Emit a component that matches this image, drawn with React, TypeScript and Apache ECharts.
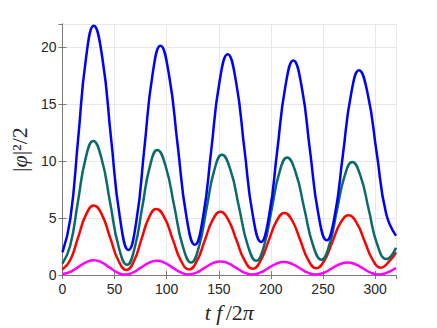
import React, { useEffect, useRef } from "react";
import * as echarts from "echarts";

// x = t f / 2π, y = |φ|²/2
const blueData: [number, number][] = [
  [0, 2.0], [7.5, 4.9], [15, 11.9], [22.5, 18.95], [30, 21.85],
  [38.3, 19.0], [46.6, 12.0], [55, 5.1], [63.3, 2.2],
  [71, 4.8], [78.6, 11.15], [86.3, 17.5], [94, 20.1],
  [102.2, 17.55], [110.5, 11.4], [118.8, 5.2], [127, 2.65],
  [134.9, 5.1], [142.8, 11.0], [150.6, 16.9], [158.5, 19.35],
  [166.5, 16.95], [174.5, 11.1], [182.5, 5.3], [190.5, 2.9],
  [198.2, 5.2], [206, 10.85], [213.8, 16.5], [221.5, 18.8],
  [229.5, 16.5], [237.5, 10.9], [245.5, 5.35], [253.5, 3.05],
  [261.2, 5.2], [269, 10.5], [276.8, 15.8], [284.5, 17.95],
  [293, 15.8], [301.5, 10.7], [310.5, 5.4], [320, 3.45],
];

const tealData: [number, number][] = [
  [0, 1.0], [7.4, 2.57], [14.75, 6.38], [22.1, 10.18], [29.5, 11.75],
  [37.6, 10.17], [45.75, 6.33], [53.9, 2.48], [62, 0.9],
  [69.25, 2.37], [76.5, 5.93], [83.75, 9.48], [91, 10.95],
  [99.1, 9.51], [107.25, 6.03], [115.4, 2.54], [123.5, 1.1],
  [130.9, 2.48], [138.25, 5.83], [145.6, 9.17], [153, 10.55],
  [161.25, 9.19], [169.5, 5.9], [177.75, 2.61], [186, 1.25],
  [193.4, 2.57], [200.75, 5.78], [208.1, 8.98], [215.5, 10.3],
  [223.75, 8.99], [232, 5.83], [240.25, 2.66], [248.5, 1.35],
  [255.9, 2.6], [263.25, 5.63], [270.6, 8.65], [278, 9.9],
  [286, 8.67], [294, 5.68], [302, 2.68], [311, 1.4],
  [315.5, 1.7], [320, 2.4],
];

const redData: [number, number][] = [
  [0, 0.5], [7.5, 1.32], [15, 3.3], [22.5, 5.28], [30, 6.1],
  [37.9, 5.28], [45.75, 3.28], [53.6, 1.28], [61.5, 0.45],
  [68.6, 1.23], [75.75, 3.13], [82.9, 5.02], [90, 5.8],
  [97.9, 5.03], [105.75, 3.15], [113.6, 1.27], [121.5, 0.5],
  [129, 1.24], [136.5, 3.03], [144, 4.81], [151.5, 5.55],
  [159.25, 4.82], [167, 3.05], [174.75, 1.28], [182.5, 0.55],
  [190.1, 1.27], [197.75, 3.0], [205.4, 4.73], [213, 5.45],
  [220.6, 4.74], [228.25, 3.03], [235.9, 1.31], [243.5, 0.6],
  [251.25, 1.28], [259, 2.93], [266.75, 4.57], [274.5, 5.25],
  [282.25, 4.58], [290, 2.95], [297.75, 1.32], [305.5, 0.65],
  [313, 1.15], [320, 2.0],
];

const magentaData: [number, number][] = [
  [0, 0.1], [7.5, 0.28], [15, 0.7], [22.5, 1.12], [30, 1.3],
  [37.5, 1.12], [45, 0.68], [52.5, 0.23], [60, 0.05],
  [67.6, 0.22], [75.25, 0.65], [82.9, 1.08], [90.5, 1.25],
  [98.1, 1.07], [105.75, 0.65], [113.4, 0.23], [121, 0.05],
  [128.6, 0.22], [136.25, 0.63], [143.9, 1.03], [151.5, 1.2],
  [159.1, 1.03], [166.75, 0.63], [174.4, 0.22], [182, 0.05],
  [189.6, 0.21], [197.25, 0.6], [204.9, 0.99], [212.5, 1.15],
  [220.1, 0.99], [227.75, 0.6], [235.4, 0.21], [243, 0.05],
  [250.6, 0.2], [258.25, 0.58], [265.9, 0.95], [273.5, 1.1],
  [281, 0.95], [288.5, 0.58], [296, 0.2], [303.5, 0.05],
  [311.5, 0.22], [320, 0.62],
];

const X_MIN = 0, X_MAX = 320, X_STEP = 50;
const Y_MIN = 0, Y_MAX = 22, Y_STEP = 5;

export default function App() {
  const ref = useRef<HTMLDivElement>(null);
  useEffect(() => {
    if (!ref.current) return;
    const chart = echarts.init(ref.current, undefined, { renderer: "svg" });
    const axisColor = "#7a7a7a";
    const labelStyle = { color: "#262626", fontSize: 14, fontFamily: "Liberation Sans, Arial, sans-serif" };
    const serif = "Liberation Serif, DejaVu Serif, serif";
    const mkLine = (name: string, data: [number, number][], color: string, width: number) => ({
      name, type: "line", data, smooth: true, showSymbol: false,
      lineStyle: { color, width }, itemStyle: { color }, z: 3,
    });
    chart.setOption({
      animation: false,
      backgroundColor: "#ffffff",
      grid: { left: 57, right: 41, top: 24, bottom: 47, containLabel: false },
      xAxis: [
        {
          type: "value", min: X_MIN, max: X_MAX, interval: X_STEP, position: "bottom",
          name: "{i|t f} {r|/2}{i|π}", nameLocation: "middle", nameGap: 21,
          nameTextStyle: {
            rich: {
              i: { fontFamily: serif, fontStyle: "italic", fontSize: 22, color: "#262626" },
              r: { fontFamily: serif, fontSize: 22, color: "#262626" },
            },
          },
          axisLine: { show: true, lineStyle: { color: axisColor, width: 1 } },
          axisTick: { show: true, inside: true, length: 4, lineStyle: { color: axisColor } },
          axisLabel: { ...labelStyle, margin: 7, showMaxLabel: false },
          splitLine: { show: true, lineStyle: { color: "#e8e8e8", width: 1 } },
        },
        {
          type: "value", min: X_MIN, max: X_MAX, interval: X_STEP, position: "top",
          axisLine: { show: true, lineStyle: { color: axisColor, width: 1 } },
          axisTick: { show: true, inside: true, length: 4, lineStyle: { color: axisColor } },
          axisLabel: { show: false },
          splitLine: { show: false },
        },
      ],
      yAxis: [
        {
          type: "value", min: Y_MIN, max: Y_MAX, interval: Y_STEP, position: "left",
          name: "{r||}{i|φ}{r||²/2}", nameLocation: "middle", nameGap: 28, nameRotate: 90,
          nameTextStyle: {
            rich: {
              i: { fontFamily: serif, fontStyle: "italic", fontSize: 22, color: "#262626" },
              r: { fontFamily: serif, fontSize: 22, color: "#262626" },
            },
          },
          axisLine: { show: true, lineStyle: { color: axisColor, width: 1 } },
          axisTick: { show: true, inside: true, length: 4, lineStyle: { color: axisColor } },
          axisLabel: { ...labelStyle, margin: 6, showMaxLabel: false },
          splitLine: { show: true, lineStyle: { color: "#e8e8e8", width: 1 } },
        },
        {
          type: "value", min: Y_MIN, max: Y_MAX, interval: Y_STEP, position: "right",
          axisLine: { show: true, lineStyle: { color: axisColor, width: 1 } },
          axisTick: { show: true, inside: true, length: 4, lineStyle: { color: axisColor } },
          axisLabel: { show: false },
          splitLine: { show: false },
        },
      ],
      series: [
        mkLine("m", magentaData, "#ff00ff", 2.5),
        mkLine("r", redData, "#ff0000", 2.5),
        mkLine("t", tealData, "#0b6b6b", 2.5),
        mkLine("b", blueData, "#0000ff", 2.5),
      ],
    });
    return () => chart.dispose();
  }, []);
  return <div ref={ref} style={{ width: 437, height: 328, position: "absolute", left: 0, top: 0 }} />;
}
